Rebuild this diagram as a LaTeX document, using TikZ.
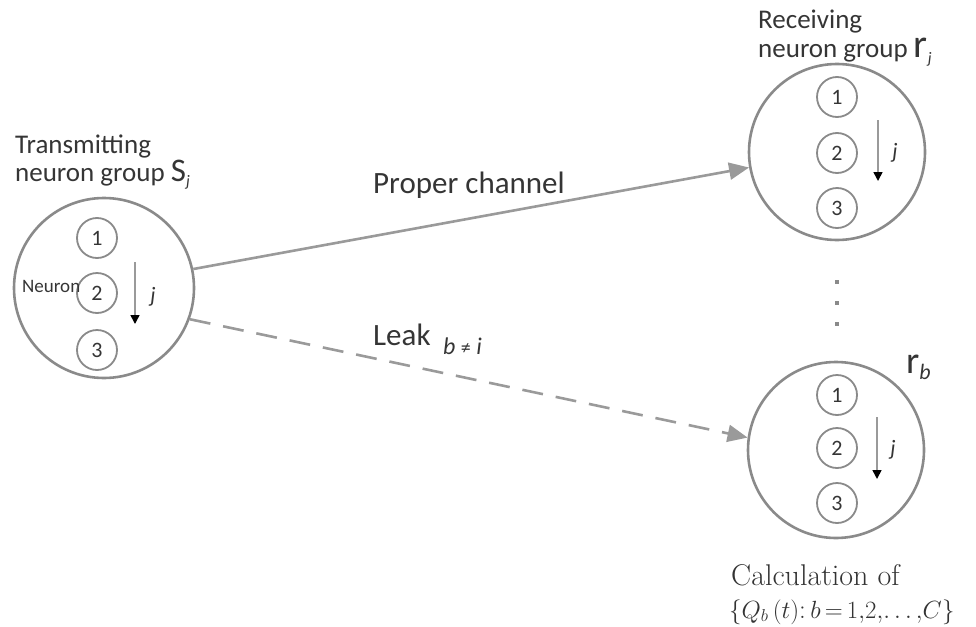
\documentclass[tikz,border=0pt]{standalone}
\usepackage{fontspec}
\setmainfont{Carlito}
\newfontfamily\serifface{Latin Modern Roman}
\usetikzlibrary{arrows.meta}
\definecolor{ink}{HTML}{353535}
\definecolor{ring}{HTML}{8A8A8A}
\definecolor{wire}{HTML}{9A9A9A}
\tikzset{
  group/.style={circle, draw=ring, line width=2.6pt, inner sep=0pt},
  cell/.style={circle, draw=ring, line width=1.8pt, minimum size=40pt, inner sep=0pt,
    text=ink, font=\fontsize{22}{22}\selectfont},
  lbl/.style={anchor=base west, inner sep=0pt, text=ink, font=\fontsize{27}{27}\selectfont},
  title/.style={anchor=base west, inner sep=0pt, text=ink, align=left, font=\fontsize{27}{24}\selectfont},
  order/.style={draw=wire, line width=1.6pt, -{Triangle[length=9pt, width=9pt, fill=black, color=black]}},
  link/.style={draw=wire, line width=2.6pt, -{Triangle[length=20pt, width=17pt, fill=wire, color=wire]}},
  jlab/.style={anchor=center, inner sep=0pt, text=ink, font=\fontsize{22}{22}\selectfont\itshape},
}
\begin{document}
\begin{tikzpicture}[x=1pt, y=-1pt]
\useasboundingbox (0,0) rectangle (976,626);

% transmitting group
\node[group, minimum size=180pt] (S) at (104,288) {};
\node[cell] (s1) at (97,238) {1};
\node[cell] (s2) at (97,293) {2};
\node[cell] (s3) at (97,350) {3};
\coordinate (sa) at (135,262);
\coordinate (sb) at (135,324);
\draw[order] (sa) -- (sb);
\node[jlab] (sj) at (153,297) {j};
\node[anchor=base west, inner sep=0pt, text=ink, font=\fontsize{19}{19}\selectfont] (neuron) at (22,292) {Neuron};
% base anchor of a two-line title sits on its last line
\node[title] (tx) at (15,181) {Transmitting\\neuron group {\fontsize{33}{24}\selectfont S\raisebox{-5pt}{\fontsize{16}{16}\selectfont\itshape j}}};

% receiving group r_j
\node[group, minimum size=176pt] (R) at (837,152) {};
\node[cell] (r1) at (837,97) {1};
\node[cell] (r2) at (837,153) {2};
\node[cell] (r3) at (837,208) {3};
\coordinate (ra) at (878,120);
\coordinate (rb) at (878,181);
\draw[order] (ra) -- (rb);
\node[jlab] (rj) at (895,153) {j};
\node[title] (rx) at (758,57) {Receiving\\[3pt]neuron group {\fontsize{40}{24}\selectfont r\raisebox{-6pt}{\fontsize{16}{16}\selectfont\itshape j}}};

% vertical ellipsis between the receiving groups
\node[fill=ring, minimum size=4.5pt, inner sep=0pt] (d1) at (837,282) {};
\node[fill=ring, minimum size=4.5pt, inner sep=0pt] (d2) at (837,303) {};
\node[fill=ring, minimum size=4.5pt, inner sep=0pt] (d3) at (837,324) {};

% receiving group r_b
\node[group, minimum size=176pt] (B) at (836,450) {};
\node[cell] (b1) at (837,395) {1};
\node[cell] (b2) at (837,448) {2};
\node[cell] (b3) at (837,503) {3};
\coordinate (ba) at (877,417);
\coordinate (bb) at (877,479);
\draw[order] (ba) -- (bb);
\node[jlab] (bj) at (893,450) {j};
\node[anchor=base west, inner sep=0pt, text=ink, font=\fontsize{38}{38}\selectfont] (rbl) at (906,373)
  {r\raisebox{-6pt}{\fontsize{22}{22}\selectfont\itshape b}};

% channels
\draw[link] (S.12) -- (R.190);
\node[lbl, font=\fontsize{31}{31}\selectfont] (proper) at (373,193) {Proper channel};
\draw[link, dash pattern=on 21pt off 13pt] (S.-20) -- (B.172);
\node[lbl, font=\fontsize{31}{31}\selectfont] (leak) at (373,345) {Leak};
\node[anchor=base west, inner sep=0pt, text=ink, font=\fontsize{24}{24}\selectfont\itshape] (neq) at (443,354) {b {\upshape\fontsize{20}{20}\selectfont≠} i};

% calculation note
\node[anchor=base west, inner sep=0pt, text=black!80, font=\serifface\fontsize{30}{30}\selectfont] (calc1) at (731,585) {Calculation of};
\node[anchor=base west, inner sep=0pt, text=black!80, font=\serifface\fontsize{27}{27}\selectfont] (calc2) at (729,618)
  {$\{Q_b\,(t)$:\,$b\,{=}\,1,\!2,\!\ldots,\!C\}$};
\end{tikzpicture}
\end{document}
